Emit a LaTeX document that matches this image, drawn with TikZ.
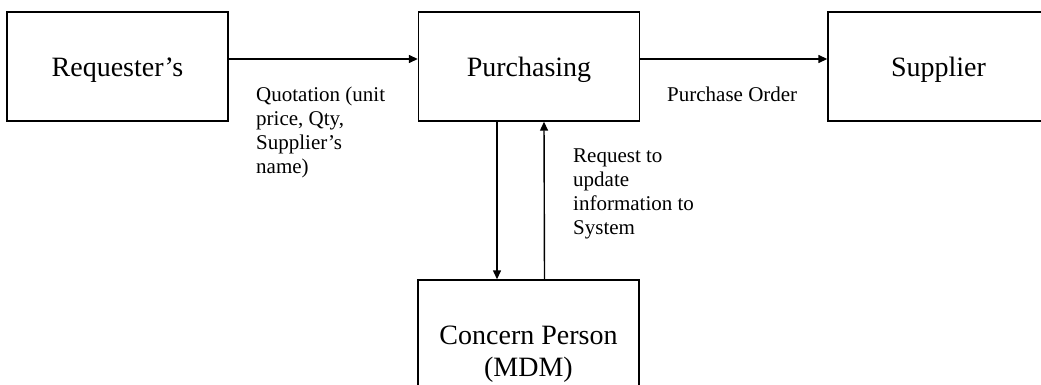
\documentclass[tikz,border=0pt]{standalone}
\usepackage{fontspec}
\setmainfont{Liberation Serif}
\usetikzlibrary{arrows.meta}
\begin{document}
\begin{tikzpicture}[x=1pt,y=-1pt,
  box/.style={draw, line width=1.4pt, minimum width=221pt, minimum height=109pt,
    inner sep=0pt, font=\fontsize{28}{32.7}\selectfont},
  onebox/.style={box, text height=20.4pt, text depth=0pt},
  lbl/.style={inner sep=0pt, anchor=north west, align=left,
    font=\fontsize{21}{24}\selectfont},
  flow/.style={line width=1.4pt, -{Triangle[length=9pt,width=8pt]}}]
\useasboundingbox (0,0) rectangle (1041,385);
\clip (0,0) rectangle (1041,385);

% process boxes
\node[onebox] (req) at (117.5,66.5) {Requester’s};
\node[onebox] (pur) at (529,66.5) {Purchasing};
\node[onebox] (sup) at (938.5,66.5) {Supplier};
\node[box, align=center, minimum height=148.6pt] (mdm) at (528.5,354.3) {Concern Person\\(MDM)};

% flows
\draw[flow] ([yshift=7.5pt]req.east) -- ([yshift=7.5pt]pur.west);
\draw[flow] ([yshift=7.5pt]pur.east) -- ([yshift=7.5pt]sup.west);
\draw[flow] ([xshift=-32pt]pur.south) -- ([xshift=-31.5pt]mdm.north);
\draw[flow] ([xshift=16pt]mdm.north) -- ([xshift=15pt]pur.south);

% flow labels
\node[lbl] (lq) at (256,86.5) {Quotation (unit\\price, Qty,\\Supplier’s\\name)};
\node[lbl] (lp) at (667,86.5) {Purchase Order};
\node[lbl] (lr) at (573,149) {Request to\\update\\information to\\System};
\end{tikzpicture}
\end{document}
